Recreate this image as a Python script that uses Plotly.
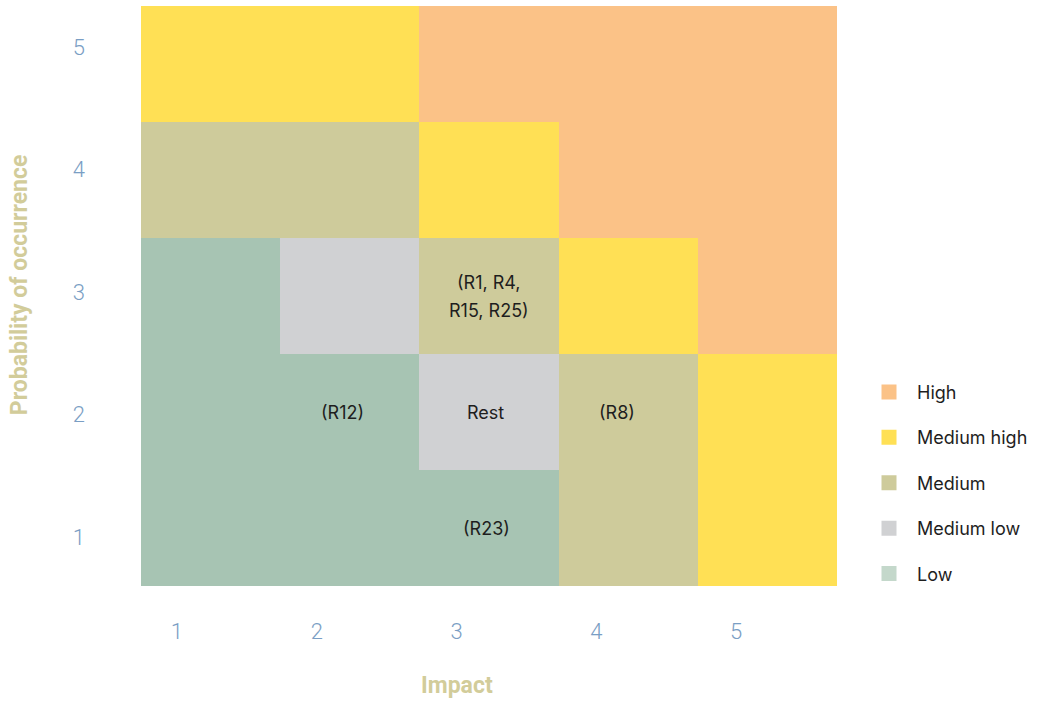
import plotly.graph_objects as go

# Risk matrix: impact (x) against probability of occurrence (y)
impact = [1, 2, 3, 4, 5]
probability = [1, 2, 3, 4, 5]
levels = ["Low", "Medium low", "Medium", "Medium high", "High"]
level_colors = ["#A7C4B3", "#D0D1D3", "#CECB9B", "#FFE055", "#FBC287"]
legend_colors = ["#C4D8CB", "#D0D1D3", "#CECB9B", "#FFE055", "#FBC287"]

# Risk level index per cell, rows from probability 1 (bottom) to 5 (top)
risk_level = [
    [0, 0, 0, 2, 3],
    [0, 0, 1, 2, 3],
    [0, 1, 2, 3, 4],
    [2, 2, 3, 4, 4],
    [3, 3, 4, 4, 4],
]

# Risks placed in the cells: (impact, probability, label lines)
cell_labels = [
    (3, 3, ["(R1, R4,", "R15, R25)"]),
    (2, 2, ["(R12)"]),
    (3, 2, ["Rest"]),
    (4, 2, ["(R8)"]),
    (3, 1, ["(R23)"]),
]
label_shift = {"(R12)": -7, "(R8)": -11, "Rest": -4, "(R23)": -3}
line_gap = 28

n = len(levels)
colorscale = []
for i, c in enumerate(level_colors):
    colorscale.append([i / n, c])
    colorscale.append([(i + 1) / n, c])

fig = go.Figure()
fig.add_trace(go.Heatmap(
    x=impact, y=probability, z=risk_level,
    zmin=-0.5, zmax=n - 0.5, colorscale=colorscale,
    showscale=False, hoverinfo="skip",
))

# Legend entries, listed from highest to lowest
for name, color in reversed(list(zip(levels, legend_colors))):
    fig.add_trace(go.Scatter(
        x=[None], y=[None], mode="markers", name=name,
        marker=dict(symbol="square", size=15, color=color),
        legendgroup=name,
    ))

# Invisible trace that carries the labelled overlay axes
fig.add_trace(go.Scatter(x=[None], y=[None], xaxis="x2", yaxis="y2",
                         showlegend=False, hoverinfo="skip"))

cell_font = dict(family="Inter", size=18, color="#1E1E1E")
for xi, yi, lines in cell_labels:
    k = len(lines)
    for j, line in enumerate(lines):
        fig.add_annotation(
            x=xi, y=yi, text=line, showarrow=False,
            xshift=label_shift.get(line, 0),
            yshift=((k - 1) / 2 - j) * line_gap,
            font=cell_font,
        )

tick_font = dict(family="Roboto", size=22, color="#7A9EC4", weight=300)
title_font = dict(family="Roboto", size=23, color="#D2CC9A", weight="bold")

# Axis titles
fig.add_annotation(text="Impact", xref="x2", x=3, yref="paper", y=-0.172,
                   yanchor="middle", showarrow=False, font=title_font)
fig.add_annotation(text="Probability of occurrence", xref="paper", x=-0.1736,
                   yref="paper", y=0.519, xanchor="center", yanchor="middle",
                   textangle=-90, showarrow=False, font=title_font)

fig.update_layout(
    width=1038, height=702,
    margin=dict(l=141, r=200, t=6, b=116),
    paper_bgcolor="white", plot_bgcolor="white",
    xaxis=dict(range=[0.5, 5.5], showticklabels=False, showgrid=False,
               zeroline=False, fixedrange=True),
    yaxis=dict(range=[0.5, 5.5], showticklabels=False, showgrid=False,
               zeroline=False, fixedrange=True),
    xaxis2=dict(overlaying="x", side="bottom", anchor="y2",
                range=[0.743, 5.721], tickvals=impact,
                ticktext=[str(v) for v in impact], tickfont=tick_font,
                ticks="", ticklabelstandoff=30, showgrid=False,
                zeroline=False, showline=False),
    yaxis2=dict(overlaying="y", side="left", anchor="x2",
                range=[0.6, 5.335], tickvals=probability,
                ticktext=[str(v) for v in probability], tickfont=tick_font,
                ticks="", ticklabelstandoff=55, showgrid=False,
                zeroline=False, showline=False),
    legend=dict(x=1.033, y=0.178, xanchor="left", yanchor="middle",
                font=dict(family="Inter", size=18, color="#1E1E1E"),
                tracegroupgap=19, itemwidth=46, itemsizing="trace"),
    showlegend=True,
)

fig.write_html("out.html")
